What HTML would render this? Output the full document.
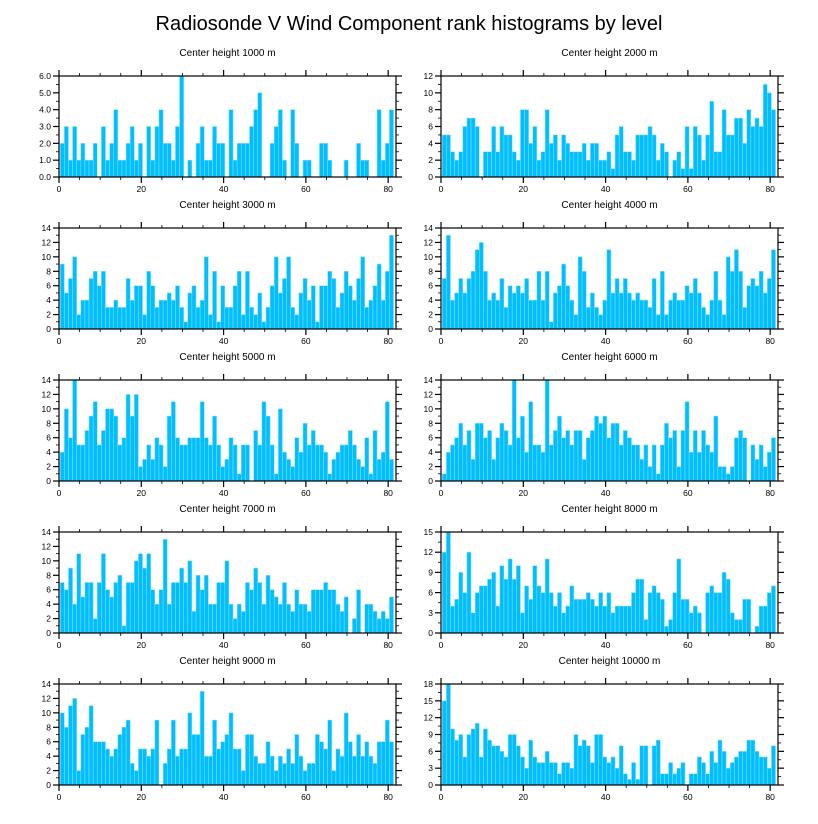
<!DOCTYPE html>
<html><head><meta charset="utf-8"><style>
html,body{margin:0;padding:0;background:#fff;}
svg{display:block;font-family:"Liberation Sans",sans-serif;}
</style></head><body>
<svg id="chart" width="818" height="824" viewBox="0 0 818 824" xmlns="http://www.w3.org/2000/svg">
<text x="409" y="30" font-size="20" text-anchor="middle">Radiosonde V Wind Component rank histograms by level</text>
</svg>
<script>
const levels = ["1000","2000","3000","4000","5000","6000","7000","8000","9000","10000"];
const yMaxes = [6,12,14,14,14,14,14,15,14,18];
const yStepList = [1,2,2,2,2,2,2,3,2,3];
const xTickLabels = [0,20,40,60,80];
const counts1000 = [2,3,1,3,1,2,1,1,2,0,3,1,2,4,1,1,2,3,1,2,0,3,1,3,4,2,2,1,3,6,0,1,0,2,3,1,1,3,2,2,0,4,1,2,2,2,3,4,5,0,0,2,3,4,1,0,4,2,0,1,1,0,0,2,2,1,0,0,0,1,0,0,2,1,1,0,0,4,1,2,4];
const counts2000 = [5,5,3,2,3,6,7,7,6,0,3,3,6,3,6,5,5,3,2,8,8,4,6,2,3,8,4,5,2,5,4,3,3,3,4,2,4,4,2,2,3,1,5,6,3,3,2,5,5,5,6,5,2,4,3,0,2,3,1,6,1,6,5,2,5,9,3,3,8,5,5,7,7,4,8,6,7,6,11,10,8];
const counts3000 = [9,5,7,10,2,4,4,7,8,6,8,3,3,4,3,3,7,4,6,6,2,8,6,3,4,4,5,4,6,3,1,5,6,3,4,10,2,8,1,6,3,3,6,8,2,8,3,2,5,1,3,6,10,5,7,10,3,2,5,7,4,6,1,6,6,8,7,3,5,8,6,4,7,10,3,4,6,9,4,8,13];
const counts4000 = [7,13,4,5,7,5,7,8,11,12,8,4,5,4,7,3,6,5,6,5,7,4,4,8,4,8,1,5,6,9,6,4,2,10,8,3,5,3,2,4,11,5,7,5,7,5,4,5,4,4,3,7,2,8,2,4,5,4,4,6,5,7,5,3,2,4,8,4,2,10,8,11,8,3,6,7,6,8,5,7,11];
const counts5000 = [4,10,6,14,5,5,7,9,11,5,7,10,10,9,5,6,12,9,12,2,3,5,3,6,5,2,9,11,6,5,5,6,6,6,11,6,5,9,5,2,3,6,5,1,5,5,0,7,5,11,9,5,1,10,4,3,2,6,4,8,5,7,5,5,4,1,3,4,5,5,7,5,3,2,6,1,7,3,4,11,3];
const counts6000 = [1,4,5,6,8,5,7,3,8,8,6,7,3,6,8,7,5,14,6,9,4,11,5,5,4,14,5,7,9,6,7,5,7,7,3,6,7,9,8,9,6,8,8,5,7,6,5,5,3,5,2,5,1,5,8,6,7,2,7,11,4,7,4,7,5,4,9,2,2,1,2,6,7,6,0,5,3,5,2,4,6];
const counts7000 = [7,6,9,4,11,5,7,7,2,7,11,6,5,7,8,1,7,7,10,11,9,11,6,4,6,13,4,7,7,9,7,10,3,8,6,8,4,4,7,7,10,4,2,4,3,7,6,9,7,4,8,6,5,4,7,4,3,6,4,4,3,6,6,6,7,6,6,4,3,5,0,2,6,0,4,4,3,2,3,2,5];
const counts8000 = [12,15,4,5,9,6,12,3,6,7,7,8,9,4,10,8,11,8,10,3,7,5,10,7,6,11,6,4,6,3,4,7,5,5,5,6,5,4,6,4,6,3,4,4,4,4,6,8,8,2,6,7,6,5,1,2,6,11,5,5,3,4,3,0,6,7,6,6,9,8,3,2,2,5,5,0,1,4,4,6,7];
const counts9000 = [10,8,11,12,2,7,8,11,6,6,6,5,4,5,7,8,9,3,2,5,5,4,5,9,0,3,5,9,4,5,5,10,7,7,13,4,4,9,5,6,7,10,5,5,2,7,7,4,3,3,6,4,2,4,3,5,3,7,4,2,3,3,7,6,5,9,2,5,4,10,6,4,7,4,6,4,3,6,6,9,6];
const counts10000 = [15,18,10,8,9,5,9,10,11,5,10,8,7,7,6,5,9,9,7,5,3,8,5,4,4,6,4,4,2,4,4,3,9,7,8,7,4,9,9,5,4,5,3,7,2,1,4,1,7,7,0,7,8,2,2,4,2,3,4,0,2,2,5,4,2,6,4,8,6,3,4,5,6,6,8,8,6,5,5,3,7];
const allCounts = [counts1000,counts2000,counts3000,counts4000,counts5000,counts6000,counts7000,counts8000,counts9000,counts10000];

const svg = document.getElementById('chart');
const NS = 'http://www.w3.org/2000/svg';
function mk(tag, attrs, parent){
  const e = document.createElementNS(NS, tag);
  for (const k in attrs) e.setAttribute(k, attrs[k]);
  (parent||svg).appendChild(e);
  return e;
}
const PW = 337, PH = 101, XMAX = 81.9;
for (let p = 0; p < 10; p++) {
  const col = p % 2, row = Math.floor(p / 2);
  const L = col === 0 ? 59 : 441, T = 76 + row * 152;
  const data = allCounts[p], ymax = yMaxes[p], ystep = yStepList[p];
  const g = mk('g', {});
  
  
  const xs = v => L + v / XMAX * PW;
  const ys = v => T + PH - v / ymax * PH;
  const t = mk('text', {x: L + PW/2, y: T - 20, 'font-size': 10, 'text-anchor': 'middle'}, g);
  
  
  t.textContent = 'Center height ' + levels[p] + ' m';
  data.forEach((v, i) => {
    if (v <= 0) return;
    const r = mk('rect', {x: xs(i + 0.3), y: ys(v), width: xs(1) - xs(0), height: ys(0) - ys(v), fill: '#00bfff', stroke: '#8ee0ff', 'stroke-width': 0.5}, g);
    
    
  });
  const f = mk('rect', {x: L, y: T, width: PW, height: PH, fill: 'none', stroke: '#000', 'stroke-width': 1.2}, g);
  
  
  // x ticks
  for (let v = 0; v <= 80; v += 5) {
    const x = xs(v), len = v % 20 === 0 ? 6 : 3;
    mk('line', {x1: x, x2: x, y1: T + PH, y2: T + PH + len, stroke: '#000', 'stroke-width': v%20===0?1.2:0.8}, g);
    mk('line', {x1: x, x2: x, y1: T, y2: T - len, stroke: '#000', 'stroke-width': v%20===0?1.2:0.8}, g);
  }
  xTickLabels.forEach(v => {
    const l = mk('text', {x: xs(v), y: T + PH + 15, 'font-size': 8.5, 'text-anchor': 'middle'}, g);
    
    
    l.textContent = v;
  });
  // y ticks
  for (let k = 0; k * ystep / 2 <= ymax + 1e-9; k++) {
    const v = k * ystep / 2, y = ys(v), major = k % 2 === 0, len = major ? 6 : 3;
    mk('line', {x1: L, x2: L - len, y1: y, y2: y, stroke: '#000', 'stroke-width': major?1.2:0.8}, g);
    mk('line', {x1: L + PW, x2: L + PW + len, y1: y, y2: y, stroke: '#000', 'stroke-width': major?1.2:0.8}, g);
    if (major) {
      const l = mk('text', {x: L - 8, y: y + 3, 'font-size': 8.5, 'text-anchor': 'end'}, g);
      
      
      l.textContent = ymax === 6 ? v.toFixed(1) : v;
    }
  }
}
</script>
</body></html>
